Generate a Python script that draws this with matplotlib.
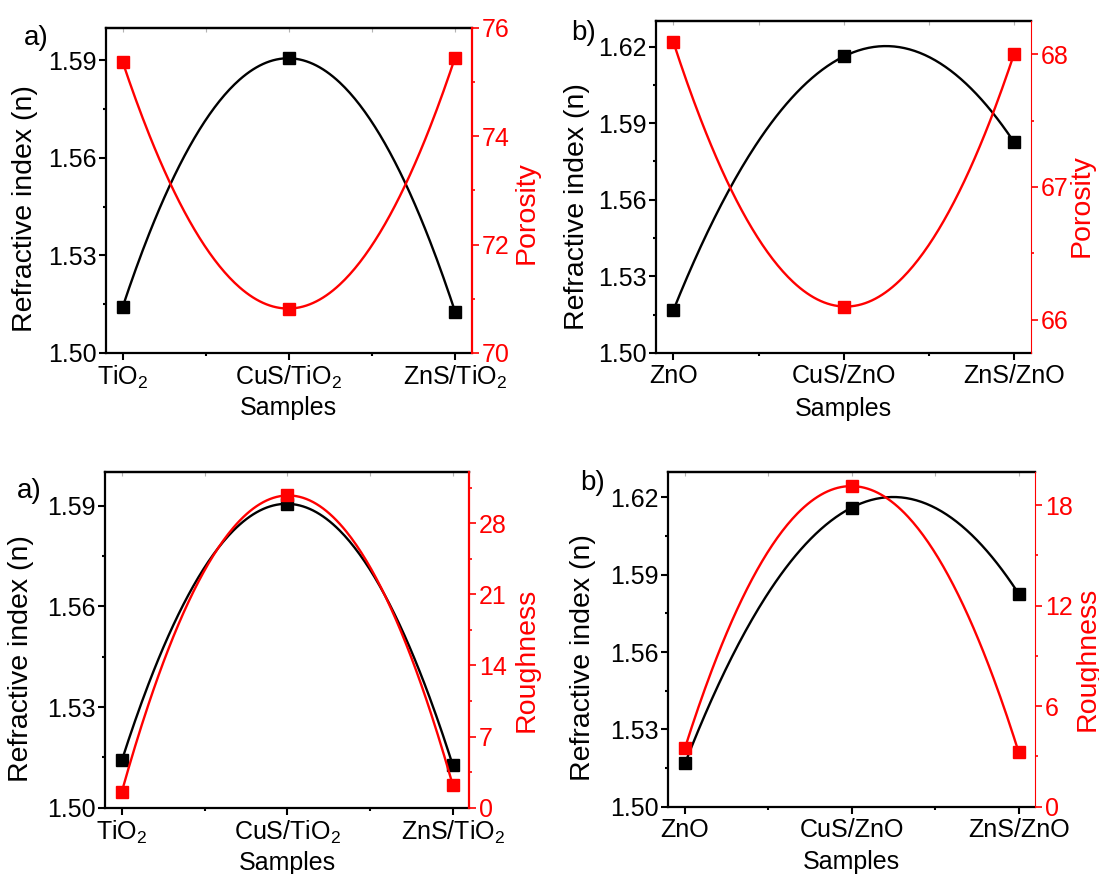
import numpy as np
import matplotlib.pyplot as plt
from matplotlib.ticker import MultipleLocator, FormatStrFormatter

plt.rcParams['font.family'] = ['Liberation Sans', 'DejaVu Sans']
plt.rcParams['mathtext.default'] = 'regular'

# sample positions and names
x = np.array([0, 1, 2])
tio2_names = ['TiO$_2$', 'CuS/TiO$_2$', 'ZnS/TiO$_2$']
zno_names = ['ZnO', 'CuS/ZnO', 'ZnS/ZnO']

# refractive index (n)
n_tio2 = [1.5141, 1.5906, 1.5127]
n_zno = [1.5168, 1.6161, 1.5826]

# porosity
por_tio2 = [75.37, 70.82, 75.45]
por_zno = [68.09, 66.10, 68.00]

# roughness
rough_tio2 = [1.58, 30.72, 2.23]
rough_zno = [3.51, 19.14, 3.25]

W, H = 1099, 874
TICK = 18
LAB = 20.5


def smooth(y):
    # quadratic through the three samples, like the original spline
    c = np.polyfit(x, y, 2)
    xs = np.linspace(0, 2, 200)
    return xs, np.polyval(c, xs)


def box(x0, x1, y0, y1):
    return [x0 / W, 1 - y1 / H, (x1 - x0) / W, (y1 - y0) / H]


def panel(fig, rect, names, n, nlim, rv, rlim, rmaj, rname, tag, tagxy,
          lcoord, rcoord, xcoord, rspine_w):
    ax = fig.add_axes(rect)
    ax2 = ax.twinx()

    xs, ys = smooth(n)
    ax.plot(xs, ys, color='black', lw=1.7)
    ax.plot(x, n, 's', color='black', ms=8)

    xs, ys = smooth(rv)
    ax2.plot(xs, ys, color='red', lw=1.7)
    ax2.plot(x, rv, 's', color='red', ms=8)

    ax.set_xlim(-0.1, 2.1)
    ax.set_ylim(*nlim)
    ax2.set_ylim(*rlim)

    ax.set_xticks(x)
    ax.set_xticklabels(names)
    ax.xaxis.set_minor_locator(MultipleLocator(0.5))
    ax.yaxis.set_major_locator(MultipleLocator(0.03))
    ax.yaxis.set_minor_locator(MultipleLocator(0.015))
    ax.yaxis.set_major_formatter(FormatStrFormatter('%.2f'))
    ax2.yaxis.set_major_locator(MultipleLocator(rmaj))
    ax2.yaxis.set_minor_locator(MultipleLocator(rmaj / 2))

    ax.tick_params(which='major', length=5, width=1.5, labelsize=TICK, pad=2)
    ax.tick_params(which='minor', length=2.5, width=1.5)
    ax.tick_params(axis='x', pad=3)
    ax2.tick_params(axis='y', which='both', colors='red', width=1.2)
    ax2.tick_params(axis='y', which='major', length=5, labelsize=TICK, pad=2)
    ax2.tick_params(axis='y', which='minor', length=2.5)

    for s in ['left', 'bottom', 'top']:
        ax.spines[s].set_linewidth(1.6)
        ax2.spines[s].set_visible(False)
    ax.spines['right'].set_visible(False)
    ax2.spines['right'].set_color('red')
    ax2.spines['right'].set_linewidth(rspine_w)

    top = ax.secondary_xaxis('top')
    top.set_xticks([0, 0.5, 1, 1.5, 2])
    top.tick_params(direction='in', length=3, color='0.7', labeltop=False)
    top.spines['top'].set_linewidth(1.6)

    ax.set_ylabel('Refractive index (n)', fontsize=LAB)
    ax.yaxis.set_label_coords(*lcoord)
    ax2.set_ylabel(rname, fontsize=LAB, color='red')
    ax2.yaxis.set_label_coords(*rcoord)
    ax.set_xlabel('Samples', fontsize=TICK)
    ax.xaxis.set_label_coords(*xcoord)

    fig.text(tagxy[0] / W, 1 - tagxy[1] / H, tag, fontsize=20,
             ha='left', va='top')
    return ax


fig = plt.figure(figsize=(W / 100, H / 100), dpi=100)

panel(fig, box(106, 471.7, 27.7, 353), tio2_names, n_tio2, (1.50, 1.60),
      por_tio2, (70, 76), 2, 'Porosity', 'a)', (24, 25),
      (-0.186, 0.443), (1.115, 0.433), (0.5, -0.132), 1.6)

panel(fig, box(656.4, 1031, 21, 353), zno_names, n_zno, (1.50, 1.63),
      por_zno, (65.75, 68.25), 1, 'Porosity', 'b)', (571, 20),
      (-0.177, 0.44), (1.101, 0.443), (0.5, -0.133), 0.8)

panel(fig, box(105.3, 469.3, 472.3, 807.7), tio2_names, n_tio2, (1.50, 1.60),
      rough_tio2, (0, 33), 7, 'Roughness', 'a)', (17, 478),
      (-0.196, 0.446), (1.123, 0.44), (0.5, -0.129), 1.6)

panel(fig, box(668.3, 1035.4, 471.7, 806.7), zno_names, n_zno, (1.50, 1.63),
      rough_zno, (0, 20), 6, 'Roughness', 'b)', (580, 470),
      (-0.198, 0.444), (1.107, 0.441), (0.5, -0.129), 0.8)

fig.savefig('out.png', dpi=100)
